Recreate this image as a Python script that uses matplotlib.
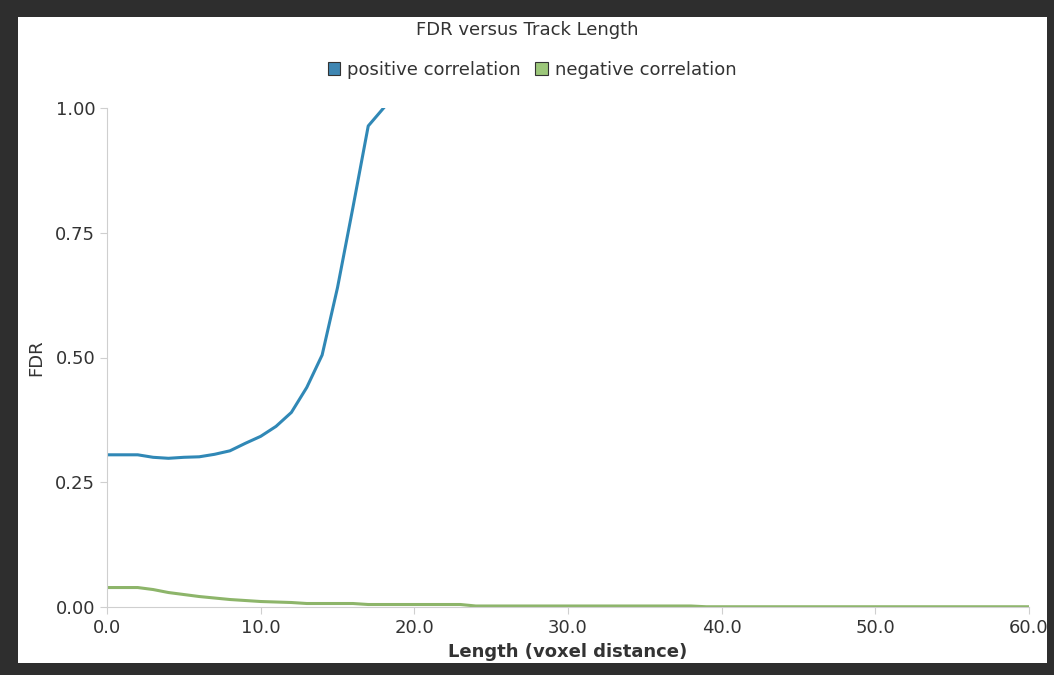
import matplotlib.pyplot as plt
from matplotlib.patches import Patch, Rectangle

# FDR values
pos_length = [0, 1, 2, 3, 4, 5, 6, 7, 8, 9, 10, 11, 12, 13, 14, 15, 16, 17, 18]
pos_fdr = [0.305, 0.305, 0.305, 0.300, 0.298, 0.300, 0.301, 0.306, 0.313, 0.328,
           0.342, 0.362, 0.390, 0.440, 0.505, 0.640, 0.800, 0.964, 1.000]

neg_length = [0, 1, 2, 3, 4, 5, 6, 7, 8, 9, 10, 11, 12, 13, 16, 17, 23, 24, 38, 39, 50, 60]
neg_fdr = [0.039, 0.039, 0.039, 0.035, 0.029, 0.025, 0.021, 0.018, 0.015, 0.013,
           0.011, 0.010, 0.009, 0.007, 0.007, 0.005, 0.005, 0.002, 0.002, 0.0005,
           0.0005, 0.0005]

x_ticks = [0, 10, 20, 30, 40, 50, 60]
y_ticks = [0.0, 0.25, 0.5, 0.75, 1.0]

blue = '#3088b6'
green = '#8db56a'

plt.rcParams['font.family'] = ['DejaVu Sans']

fig = plt.figure(figsize=(10.54, 6.75), dpi=100, facecolor='#2e2e2e')
# white panel inside the dark frame
fig.patches.append(Rectangle((18 / 1054, 1 - 663 / 675), 1029 / 1054, 646 / 675,
                             transform=fig.transFigure, facecolor='white',
                             edgecolor='none', zorder=-10))

ax = fig.add_axes([107 / 1054, 1 - 607 / 675, 922 / 1054, 499 / 675])
ax.set_facecolor('white')
ax.plot(pos_length, pos_fdr, color=blue, lw=2.2, solid_joinstyle='round')
ax.plot(neg_length, neg_fdr, color=green, lw=2.2, solid_joinstyle='round')

ax.set_xlim(0, 60)
ax.set_ylim(0, 1)
ax.set_xticks(x_ticks)
ax.set_xticklabels(['%.1f' % v for v in x_ticks])
ax.set_yticks(y_ticks)
ax.set_yticklabels(['%.2f' % v for v in y_ticks])
for s in ['top', 'right']:
    ax.spines[s].set_visible(False)
for s in ['left', 'bottom']:
    ax.spines[s].set_color('#cfcfcf')
ax.tick_params(colors='#cfcfcf', labelcolor='#333333', labelsize=13, length=5)

ax.set_xlabel('Length (voxel distance)', fontsize=13, fontweight='bold', color='#333333')
ax.set_ylabel('FDR', fontsize=13, color='#333333')
ax.xaxis.set_label_coords(0.5, -0.072)
ax.yaxis.set_label_coords(-0.067, 0.5)

fig.text(0.5, 1 - 30 / 675, 'FDR versus Track Length', ha='center', va='center',
         fontsize=13, color='#333333')

handles = [Patch(facecolor='#3f86b2', edgecolor='#333333', lw=0.8, label='positive correlation'),
           Patch(facecolor='#9cc77a', edgecolor='#333333', lw=0.8, label='negative correlation')]
fig.legend(handles=handles, loc='center', bbox_to_anchor=(0.505, 1 - 70 / 675), ncol=2,
           frameon=False, fontsize=13, handlelength=0.7, handleheight=0.7,
           handletextpad=0.4, columnspacing=0.8, labelcolor='#333333')

fig.savefig('out.png', dpi=100, facecolor=fig.get_facecolor())
